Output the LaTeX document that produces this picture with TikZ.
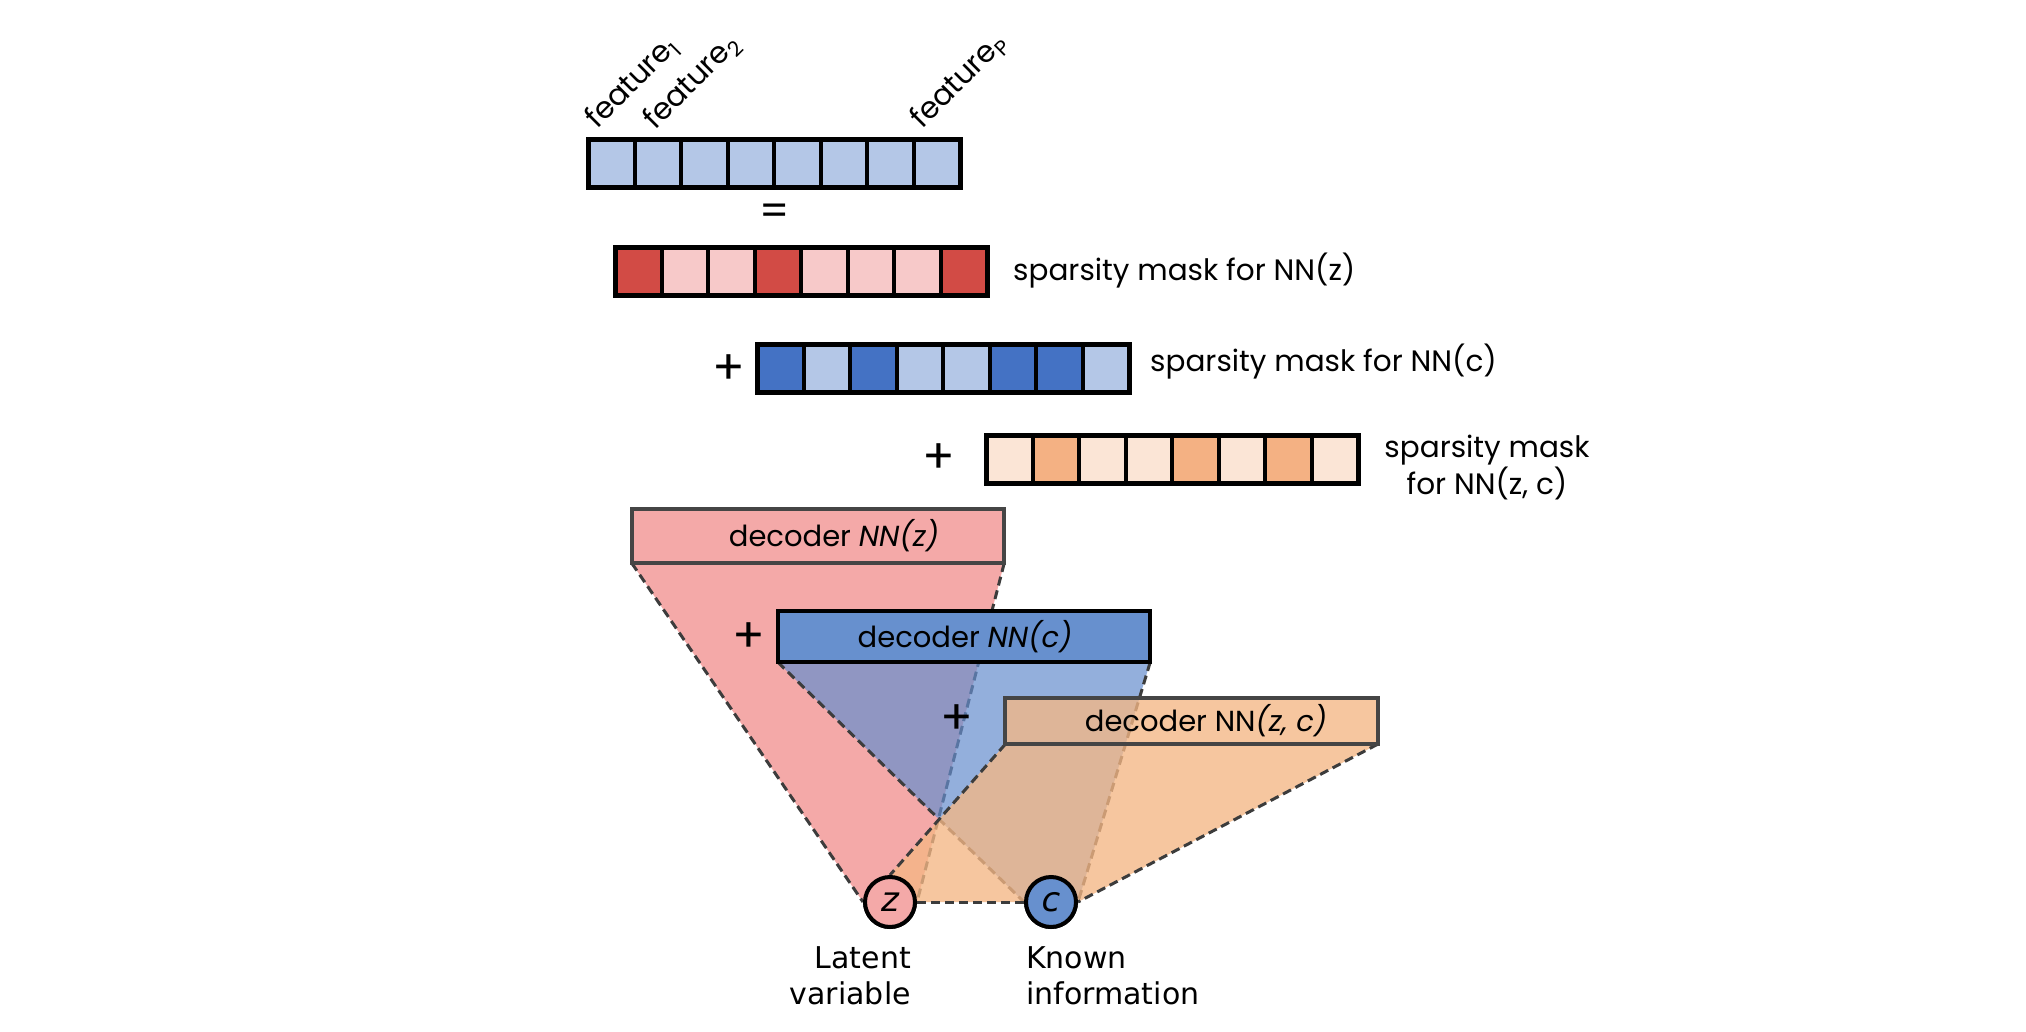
\documentclass[tikz,border=0pt]{standalone}
\usepackage{fontspec}
\setmainfont{Poppins}
\newfontfamily\dvfont{DejaVu Sans}
\definecolor{featblue}{HTML}{B4C7E7}
\definecolor{reddark}{HTML}{D24B45}
\definecolor{redlight}{HTML}{F7C9C9}
\definecolor{bluedark}{HTML}{4472C4}
\definecolor{orlight}{HTML}{FBE5D6}
\definecolor{ormid}{HTML}{F4B183}
\definecolor{pinkfill}{HTML}{F4A9A8}
\definecolor{bluefill}{HTML}{668ECE}
\definecolor{boxblue}{HTML}{6790CE}
\definecolor{orfill}{HTML}{F4B785}
\definecolor{edgegray}{HTML}{3C3C3C}
\definecolor{boxgray}{HTML}{454545}
\newcommand{\maskbar}[3]{%
  \foreach \cc [count=\ii from 0] in {#3} {
    \draw[line width=4pt, fill=\cc] ({#1+\ii*46.5},#2) rectangle ++(46.5,48);
  }
  \draw[line width=5pt] (#1,#2) rectangle ++(372,48);
}
\tikzset{
  dashedge/.style={draw=edgegray, line width=3pt, dash pattern=on 9pt off 5pt},
  decbox/.style={rectangle, inner sep=0pt, minimum width=372pt, minimum height=54pt},
  declabel/.style={inner sep=0pt, font=\fontsize{29}{34}\selectfont},
  masklabel/.style={inner sep=0pt, anchor=base west, font=\fontsize{29.5}{35}\selectfont},
  plussign/.style={inner sep=0pt, font=\fontsize{48}{52}\selectfont},
  eqsign/.style={inner sep=0pt, font=\fontsize{42}{46}\selectfont},
  featlabel/.style={inner sep=0pt, anchor=base west, rotate=45, font=\fontsize{30}{34}\selectfont},
  varnode/.style={circle, minimum size=50pt, inner sep=0pt, line width=4pt, draw=black, font=\dvfont\itshape\fontsize{34}{38}\selectfont},
  varlabel/.style={inner sep=0pt, font=\dvfont\fontsize{30}{36}\selectfont},
}
\begin{document}
\begin{tikzpicture}[x=1pt,y=-1pt]
\useasboundingbox (0,0) rectangle (2026,1032);
\fill[white] (0,0) rectangle (2026,1032);

% feature labels
\node[featlabel] (f1) at (597,130) {feature\textsubscript{1}};
\node[featlabel] (f2) at (655,131) {feature\textsubscript{2}};
\node[featlabel] (fp) at (922,130) {feature\textsubscript{P}};

% bars
\maskbar{588}{140}{featblue,featblue,featblue,featblue,featblue,featblue,featblue,featblue}
\node[eqsign] (eq) at (775,215) {=};
\maskbar{615}{248}{reddark,redlight,redlight,reddark,redlight,redlight,redlight,reddark}
\node[masklabel] (lz) at (1013,281) {sparsity mask for NN(z)};
\node[plussign] (p1) at (728.5,370) {+};
\maskbar{757}{344}{bluedark,featblue,bluedark,featblue,featblue,bluedark,bluedark,featblue}
\node[masklabel] (lc) at (1150,371) {sparsity mask for NN(c)};
\node[plussign] (p2) at (939,459) {+};
\maskbar{986}{435}{orlight,ormid,orlight,orlight,ormid,orlight,ormid,orlight}
\node[inner sep=0pt, align=center, font=\fontsize{29.5}{37}\selectfont, anchor=center] (lzc) at (1487,468) {sparsity mask\\ for NN(z, c)};

% variable nodes (positions)
\node[varnode, fill=pinkfill] (z) at (890,902) {z};
\node[varnode, fill=boxblue] (c) at (1051,902) {c};

% decoder boxes
\node[decbox] (dz) at (818,536) {};
\node[decbox, minimum height=51pt] (dc) at (964,636.5) {};
\node[decbox, minimum height=46pt] (dzc) at (1191.5,721) {};

% pink layer
\fill[pinkfill] (dz.south west) -- (dz.south east) -- (z.east) -- (z.west) -- cycle;
\draw[dashedge] (dz.south west) -- (z.west);
\draw[dashedge] (dz.south east) -- (z.east);
\fill[pinkfill] (dz.south west) rectangle (dz.north east);
\draw[boxgray, line width=4pt] (dz.south west) rectangle (dz.north east);
\node[declabel] (tz) at (834,536) {decoder \textit{NN(z)}};

% blue layer
\fill[bluefill, fill opacity=0.7] (dc.south west) -- (dc.south east) -- (c.east) -- (c.west) -- cycle;
\draw[dashedge] (dc.south west) -- (c.west);
\draw[dashedge] (dc.south east) -- (c.east);
\fill[boxblue] (dc.south west) rectangle (dc.north east);
\draw[black, line width=4pt] (dc.south west) rectangle (dc.north east);
\node[declabel] (tc) at (965,636.5) {decoder \textit{NN(c)}};
\node[plussign] (p3) at (749,638) {+};

% orange layer
\fill[orfill, fill opacity=0.78] (dzc.south west) -- (z.north) -- (z.east) -- (c.west) -- (c.east) -- (dzc.south east) -- cycle;
\draw[dashedge] (dzc.south west) -- (z.north);
\draw[dashedge] (z.east) -- (c.west);
\draw[dashedge] (dzc.south east) -- (c.east);
\fill[orfill, fill opacity=0.78] (dzc.south west) rectangle (dzc.north east);
\draw[boxgray, line width=4pt] (dzc.south west) rectangle (dzc.north east);
\node[declabel] (tzc) at (1206,721) {decoder NN\textit{(z, c)}};
\node[plussign] (p4) at (957,720) {+};

% redraw variable nodes on top
\node[varnode, fill=pinkfill] (z2) at (z) {z};
\node[varnode, fill=boxblue] (c2) at (c) {c};

% labels
\node[varlabel, align=right, anchor=north east] (lat) at (911,946) {Latent\\variable};
\node[varlabel, align=left, anchor=north west] (kno) at (1026,946) {Known\\information};
\end{tikzpicture}
\end{document}
